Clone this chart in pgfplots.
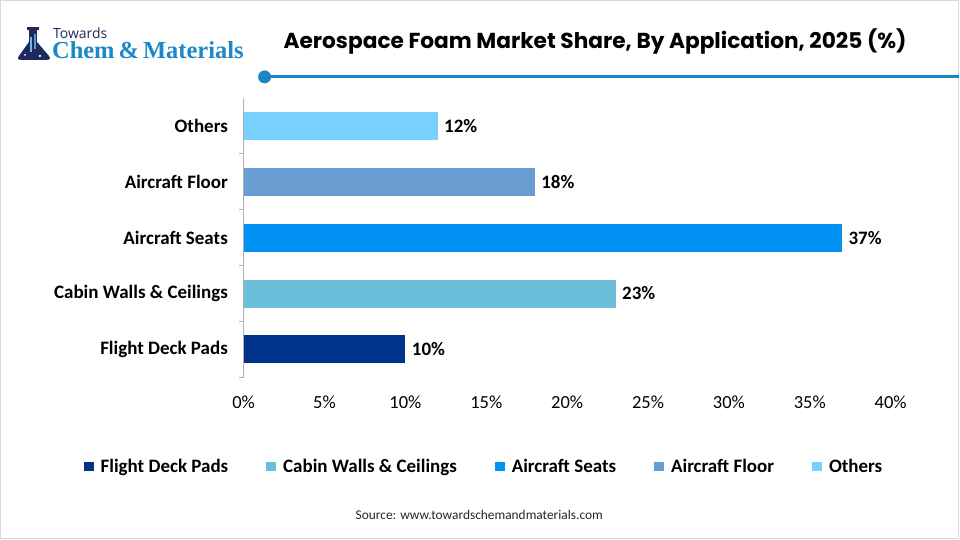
\documentclass[border=0pt]{standalone}
\usepackage{pgfplots}
\pgfplotsset{compat=1.18}
\usepackage{fontspec}
\setmainfont{Carlito}
\newfontfamily\titlefont{Poppins}
\newfontfamily\logofont{Liberation Serif}
\newfontfamily\logosans{Open Sans}

\definecolor{cDeck}{HTML}{00338A}
\definecolor{cCabin}{HTML}{6BBFDB}
\definecolor{cSeats}{HTML}{0091F2}
\definecolor{cFloor}{HTML}{6A9ED2}
\definecolor{cOthers}{HTML}{78D0FF}
\definecolor{lineblue}{HTML}{1A86C6}
\definecolor{logonavy}{HTML}{1E2A5E}
\definecolor{logoblue}{HTML}{1C87C9}

\begin{document}
\begin{tikzpicture}[x=1pt,y=1pt]
% canvas and frame
\fill[white] (0,0) rectangle (960,540);
\draw[black!15, line width=1pt] (0.5,0.5) rectangle (959.5,539.5);

% logo: flask icon
\fill[logonavy] (27,510) rectangle (39,513);
\fill[logonavy] (29,498) rectangle (37,510);
\fill[logonavy] (29,498) -- (19,484) .. controls (17,481) and (18,480) .. (22,480)
  -- (46,480) .. controls (50,480) and (51,481) .. (49,484) -- (37,498) -- cycle;
\fill[logoblue!60] (30,488) rectangle (32,503);
\fill[logoblue!80] (34,491) rectangle (36,506);
\fill[white] (40,484) circle (1.3);
\fill[white] (25,485) circle (1.0);
\node[anchor=west, inner sep=0pt, text=logonavy, font=\logosans\fontsize{14}{16}\selectfont] at (53,507) {Towards};
\node[anchor=base west, inner sep=0pt, text=logoblue, font=\logofont\bfseries\fontsize{24.5}{28}\selectfont] at (52,481) {Chem\,\&\,Materials};

% title and rule
\node[anchor=center, inner sep=0pt, font=\titlefont\bfseries\fontsize{21.7}{25}\selectfont] at (596,498)
  {Aerospace Foam Market Share, By Application, 2025 (\%)};
\draw[lineblue, line width=3pt] (265,463) -- (960,463);
\fill[lineblue] (265,463) circle (6.5);

\begin{axis}[
  at={(244pt,162pt)}, anchor=south west,
  scale only axis, width=648pt, height=280pt,
  xbar, bar width=28pt, bar shift=0pt,
  xmin=0, xmax=40, ymin=-0.5, ymax=4.5,
  axis lines*=left, separate axis lines,
  x axis line style={draw=none},
  y axis line style={draw=black!30, line width=1pt},
  xtick={0,5,...,40},
  xticklabels={0\%,5\%,10\%,15\%,20\%,25\%,30\%,35\%,40\%},
  xtick style={draw=none},
  ytick={0,1,2,3,4},
  yticklabels={Flight Deck Pads,Cabin Walls \& Ceilings,Aircraft Seats,Aircraft Floor,Others},
  ytick style={draw=none},
  extra y ticks={-0.5,0.5,1.5,2.5,3.5},
  extra y tick labels={},
  extra y tick style={ytick style={draw=black!30, line width=1pt}, major tick length=5pt, tick align=outside},
  ticklabel style={font=\fontsize{18.5}{21}\selectfont, text=black},
  xticklabel style={yshift=-15pt},
  yticklabel style={font=\bfseries\fontsize{19}{22}\selectfont, xshift=-8pt},
  /pgf/number format/assume math mode=true,
  point meta=x,
  nodes near coords={\pgfmathprintnumber{\pgfplotspointmeta}\%},
  nodes near coords align={horizontal},
  every node near coord/.append style={font=\bfseries\fontsize{19}{22}\selectfont, text=black, xshift=3pt},
  legend columns=5,
  legend style={at={(0.3715,-0.32)}, anchor=center, draw=none, fill=none,
    font=\bfseries\fontsize{19}{22}\selectfont,
    /tikz/every odd column/.append style={column sep=5pt},
    /tikz/every even column/.append style={column sep=36pt}},
  legend image code/.code={\fill[#1] (0pt,-4.5pt) rectangle (10pt,5pt);},
]
\addplot[fill=cDeck, draw=none] coordinates {(10,0)};
\addlegendentry{Flight Deck Pads}
\addplot[fill=cCabin, draw=none] coordinates {(23,1)};
\addlegendentry{Cabin Walls \& Ceilings}
\addplot[fill=cSeats, draw=none] coordinates {(37,2)};
\addlegendentry{Aircraft Seats}
\addplot[fill=cFloor, draw=none] coordinates {(18,3)};
\addlegendentry{Aircraft Floor}
\addplot[fill=cOthers, draw=none] coordinates {(12,4)};
\addlegendentry{Others}
\end{axis}

\node[anchor=center, inner sep=0pt, font=\fontsize{13.4}{16}\selectfont, text=black!85] at (480,24)
  {Source: www.towardschemandmaterials.com};
\end{tikzpicture}
\end{document}
